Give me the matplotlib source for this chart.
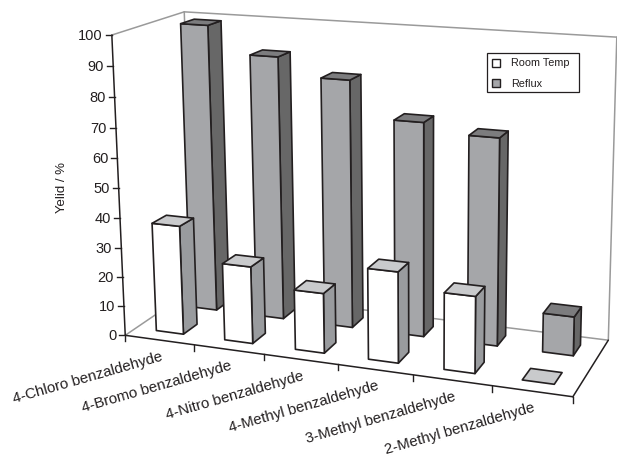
import numpy as np
import matplotlib
matplotlib.use("Agg")
from matplotlib import pyplot as plt
from matplotlib.patches import Polygon, Rectangle

plt.rcParams['font.family'] = ['Liberation Sans', 'DejaVu Sans']

categories = ['4-Chloro benzaldehyde', '4-Bromo benzaldehyde', '4-Nitro benzaldehyde',
              '4-Methyl benzaldehyde', '3-Methyl benzaldehyde', '2-Methyl benzaldehyde']
room_temp = [37, 26, 20, 30, 25, 0]
reflux = [99, 90, 84, 72, 69, 13]
y_ticks = [0, 10, 20, 30, 40, 50, 60, 70, 80, 90, 100]

DARK = '#231f20'
WALL = '#9a9a9a'

# box corners (category, value, depth) and where they sit in the picture
world = np.array([[0, 0, 0], [0, 100, 0], [0, 0, 1], [0, 100, 1], [6, 0, 1], [6, 100, 1], [6, 0, 0]], dtype=float)
pixel = np.array([[124, 337], [113, 36], [195, 289], [183, 13], [608, 342], [617, 38], [573, 397]], dtype=float)

rows = []
for (wx, wy, wz), (px, py) in zip(world, pixel):
    rows.append([wx, wy, wz, 1, 0, 0, 0, 0, -px*wx, -px*wy, -px*wz, -px])
    rows.append([0, 0, 0, 0, wx, wy, wz, 1, -py*wx, -py*wy, -py*wz, -py])
camera = np.linalg.svd(np.array(rows))[2][-1].reshape(3, 4)


def project(x, y, z):
    u, v, w = camera @ np.array([x, y, z, 1.0])
    return u/w, v/w


def draw_bar(ax, left, value, z0, z1, front, side, top):
    right = left + 0.4
    if value > 0:
        ax.add_patch(Polygon([project(right, 0, z0), project(right, 0, z1), project(right, value, z1), project(right, value, z0)],
                             closed=True, fc=side, ec=DARK, lw=1.2, joinstyle='round', zorder=3))
        ax.add_patch(Polygon([project(left, 0, z0), project(right, 0, z0), project(right, value, z0), project(left, value, z0)],
                             closed=True, fc=front, ec=DARK, lw=1.2, joinstyle='round', zorder=3))
    ax.add_patch(Polygon([project(left, value, z0), project(right, value, z0), project(right, value, z1), project(left, value, z1)],
                         closed=True, fc=top, ec=DARK, lw=1.2, joinstyle='round', zorder=3))


def draw_line(ax, a, b, color, lw):
    p, q = project(*a), project(*b)
    ax.plot([p[0], q[0]], [p[1], q[1]], color=color, lw=lw, solid_capstyle='round', zorder=1)


fig = plt.figure(figsize=(6.17, 4.6), dpi=100)
ax = fig.add_axes([0, 0, 1, 1])
ax.set_xlim(0, 617)
ax.set_ylim(460, 0)
ax.axis('off')

# walls and floor
draw_line(ax, (0, 100, 0), (0, 100, 1), WALL, 1.1)
draw_line(ax, (0, 100, 1), (6, 100, 1), WALL, 1.1)
draw_line(ax, (0, 100, 1), (0, 0, 1), WALL, 1.1)
draw_line(ax, (6, 100, 1), (6, 0, 1), WALL, 1.1)
draw_line(ax, (0, 0, 0), (0, 0, 1), WALL, 1.1)
draw_line(ax, (0, 0, 1), (6, 0, 1), WALL, 1.1)
draw_line(ax, (6, 0, 0), (6, 0, 1), DARK, 1.1)

# axes
draw_line(ax, (0, 0, 0), (0, 100, 0), DARK, 1.1)
draw_line(ax, (0, 0, 0), (6, 0, 0), DARK, 1.1)
for tick in y_ticks:
    x0, y0 = project(0, tick, 0)
    ax.plot([x0 - 6, x0], [y0, y0], color=DARK, lw=1)
    ax.text(x0 - 9, y0, str(tick), ha='right', va='center', fontsize=10.5, color=DARK)
for i in range(len(categories) + 1):
    x0, y0 = project(i, 0, 0)
    ax.plot([x0, x0], [y0, y0 + 6], color=DARK, lw=1)

for i, label in enumerate(categories):
    x0, y0 = project(i + 0.5, 0, 0)
    ax.text(x0 + 4, y0 + 19, label, ha='right', va='baseline', rotation=16, rotation_mode='anchor', fontsize=10.8, color=DARK)

ax.text(62, 188, 'Yelid / %', rotation=90, ha='center', va='center', fontsize=9.5, color=DARK)

# back row first so the front row covers it
for i, value in enumerate(reflux):
    draw_bar(ax, i + 0.3, value, 0.65, 0.85, '#a5a6a9', '#676767', '#7c7c7e')
for i, value in enumerate(room_temp):
    draw_bar(ax, i + 0.3, value, 0.15, 0.35, '#ffffff', '#999b9e', '#c9cacc')

# legend
ax.add_patch(Rectangle((487, 54), 92, 39, fc='white', ec=DARK, lw=0.9))
ax.add_patch(Rectangle((492, 60), 8, 8, fc='white', ec=DARK, lw=1))
ax.add_patch(Rectangle((492, 80), 8, 8, fc='#a5a6a9', ec=DARK, lw=1))
ax.text(511, 63, 'Room Temp', ha='left', va='center', fontsize=7.8, color=DARK)
ax.text(511, 84, 'Reflux', ha='left', va='center', fontsize=7.8, color=DARK)

fig.savefig('out.png', dpi=100)
